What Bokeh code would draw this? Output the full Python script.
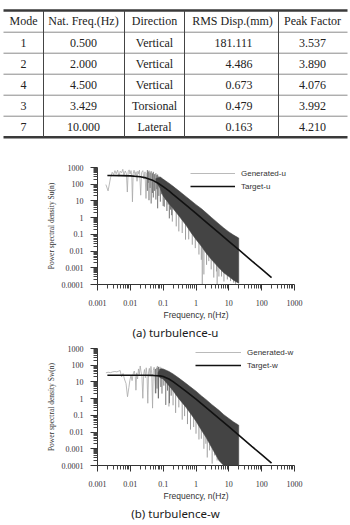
from bokeh.plotting import figure
from bokeh.models import Range1d, FixedTicker, CustomJSTickFormatter, Legend, LegendItem
from bokeh.core.properties import value
from bokeh.embed import file_html
from bokeh.resources import INLINE

# ---------------- modal response table ----------------
table_headers = ["Mode", "Nat. Freq.(Hz)", "Direction", "RMS Disp.(mm)", "Peak Factor"]
modes = ["1", "2", "4", "3", "7"]
nat_freq = [0.500, 2.000, 4.500, 3.429, 10.000]
directions = ["Vertical", "Vertical", "Vertical", "Torsional", "Lateral"]
rms_disp = [181.111, 4.486, 0.673, 0.479, 0.163]
peak_factor = [3.537, 3.890, 4.076, 3.992, 4.210]

# ---------------- turbulence-u spectrum ----------------
target_u_f = [0.002, 0.005, 0.01, 0.02, 0.03, 0.05, 0.07, 0.1, 0.15, 0.2, 0.3, 0.5,
              0.7, 1, 2, 5, 10, 20, 50, 100, 200]
target_u_s = [330, 326, 316, 282, 239, 164, 114, 72, 40, 25, 13, 5.6,
              3.2, 1.78, 0.56, 0.122, 0.0385, 0.0121, 0.0026, 0.00083, 0.00026]

wander_u_f = [0.0018, 0.0021, 0.0025, 0.0028, 0.0031, 0.0034, 0.0037, 0.0041, 0.0045, 0.0049,
              0.0054, 0.0059, 0.0064, 0.0070, 0.0076, 0.0081, 0.0086, 0.0092, 0.0098, 0.0105,
              0.0111, 0.0116, 0.0122, 0.0130, 0.0140, 0.0150, 0.0160, 0.0170, 0.0180, 0.0190,
              0.0207, 0.0220, 0.0240, 0.0260, 0.0280, 0.0300, 0.0320]
wander_u_s = [95, 40, 250, 520, 380, 650, 420, 700, 300, 600,
              480, 780, 350, 620, 430, 34, 560, 720, 400, 650,
              300, 8.8, 420, 680, 350, 560, 150, 600, 420, 700,
              22, 500, 650, 200, 550, 14, 480]

band_u_f = [0.06, 0.08, 0.1, 0.15, 0.2, 0.3, 0.5, 0.7, 1, 1.5, 2, 3, 5, 7, 10, 14, 20]
band_u_hi = [220, 260, 200, 115, 75, 40, 18, 10.5, 6.0, 3.3, 2.0, 1.0, 0.42, 0.24, 0.14, 0.09, 0.06]
band_u_lo = [150, 60, 20, 7, 3.5, 1.3, 0.35, 0.13, 0.05, 0.018, 0.008, 0.003, 0.001,
             0.0005, 0.0003, 0.00018, 0.00012]

mid_u_f = [0.033, 0.035, 0.037, 0.040, 0.043, 0.047, 0.050, 0.055, 0.060, 0.064, 0.068,
           0.074, 0.082, 0.090, 0.100, 0.108, 0.118, 0.130, 0.142, 0.154, 0.168, 0.182]
mid_u_top = [700, 550, 650, 500, 600, 450, 550, 400, 450, 350, 380,
             300, 280, 250, 200, 180, 150, 120, 100, 90, 70, 60]
mid_u_bot = [40, 120, 11, 60, 7, 30, 16, 40, 12, 50, 3.6,
             20, 9, 25, 5, 4.5, 12, 2.5, 6, 0.9, 3, 1.4]

light_u_f = [0.19, 0.25, 0.30, 0.38, 0.48, 0.60, 0.77, 0.95, 1.23, 1.45, 1.55, 1.74, 2.1,
             2.46, 2.9, 3.48, 4.2, 4.4, 4.99, 6.0, 7.1, 9.0, 11.3, 14.0, 16.0]
light_u_top = [5, 3, 2, 1, 0.5, 0.3, 0.2, 0.1, 0.05, 0.04, 0.03, 0.02, 0.015,
               0.01, 0.008, 0.005, 0.003, 0.003, 0.002, 0.0015, 0.001, 0.0008, 0.0006, 0.0004, 0.0003]
light_u_bot = [0.58, 0.3, 0.15, 0.12, 0.048, 0.05, 0.024, 0.015, 0.0062, 0.003, 0.0001, 0.0004, 0.0015,
               0.0025, 0.0008, 0.00026, 0.0006, 0.0001, 0.0003, 0.0003, 0.00015, 0.0002, 0.00016,
               0.00013, 0.00011]

# ---------------- turbulence-w spectrum ----------------
target_w_f = [0.002, 0.01, 0.03, 0.05, 0.08, 0.1, 0.15, 0.2, 0.3, 0.5, 1, 2, 5, 10, 20, 50, 100, 200]
target_w_s = [25, 25, 25, 24.5, 23, 21, 15, 10.5, 5.8, 2.7, 0.95, 0.3, 0.066, 0.021, 0.0066,
              0.0014, 0.00045, 0.00014]

wander_w_f = [0.0018, 0.0021, 0.0025, 0.0029, 0.0034, 0.0039, 0.0044, 0.0049, 0.0054, 0.006,
              0.0066, 0.0074, 0.0082, 0.009, 0.0097, 0.0105, 0.0113, 0.0122, 0.0132, 0.0142,
              0.0148, 0.0156, 0.0166, 0.0177, 0.0188, 0.02, 0.0213, 0.0226, 0.024, 0.0255,
              0.027, 0.0287, 0.0305, 0.0323, 0.034, 0.036, 0.038, 0.04, 0.0425, 0.045,
              0.0475, 0.05, 0.053, 0.056, 0.06, 0.063, 0.067, 0.071, 0.076, 0.08,
              0.085, 0.09, 0.095]
wander_w_s = [35, 38, 36, 40, 42, 40, 44, 48, 20, 32,
              15, 8, 1.3, 4.5, 12.7, 25, 12, 30, 45, 20,
              3.2, 35, 15, 60, 28, 90, 40, 20, 1.05, 30,
              55, 18, 70, 25, 0.53, 40, 65, 22, 85, 30,
              0.27, 50, 75, 25, 2.1, 60, 90, 1.05, 45, 80,
              30, 70, 40]

band_w_f = [0.07, 0.08, 0.1, 0.15, 0.2, 0.3, 0.5, 0.7, 1, 1.5, 2, 3, 5, 7, 10, 14, 20]
band_w_hi = [35, 60, 60, 42, 30, 17, 8, 4.8, 2.8, 1.4, 0.9, 0.45, 0.2, 0.11, 0.065, 0.04, 0.026]
band_w_lo = [25, 18, 15, 6, 3, 1, 0.3, 0.12, 0.045, 0.012, 0.005, 0.0012, 0.0002,
             0.0001, 0.0001, 0.0001, 0.0001]

mid_w_f = [0.058, 0.065, 0.072, 0.085, 0.092, 0.105, 0.12, 0.135, 0.155, 0.175]
mid_w_top = [60, 70, 80, 60, 55, 50, 40, 35, 30, 25]
mid_w_bot = [2.1, 4, 1.05, 5, 2, 6, 0.42, 3, 0.53, 1.5]

light_w_f = [0.15, 0.2, 0.24, 0.3, 0.38, 0.45, 0.55, 0.68, 0.85, 1.0,
             1.23, 1.45, 1.74, 2.0, 2.2, 2.6, 3.1, 3.7, 4.4]
light_w_top = [8, 4, 3, 1.5, 0.8, 0.5, 0.3, 0.15, 0.08, 0.05,
               0.03, 0.015, 0.009, 0.006, 0.004, 0.002, 0.0015, 0.0008, 0.0004]
light_w_bot = [0.34, 0.4, 0.14, 0.3, 0.055, 0.09, 0.03, 0.014, 0.02, 0.008,
               0.0036, 0.004, 0.001, 0.002, 0.0003, 0.0008, 0.00013, 0.0004, 0.0002]

# axis ticks (decades with 2..9 minor ticks)
x_major = [1e-3, 1e-2, 1e-1, 1.0, 10.0, 100.0, 1000.0]
y_major = [1e-4, 1e-3, 1e-2, 1e-1, 1.0, 10.0, 100.0, 1000.0]

SERIF = "Liberation Serif"
SANS = "Liberation Sans"
W = 350


def bare(height):
    p = figure(width=W, height=height, x_range=Range1d(0, W), y_range=Range1d(height, 0),
               min_border=0, x_axis_location=None, y_axis_location=None,
               toolbar_location=None, output_backend="svg", outline_line_color=None)
    p.grid.visible = False
    return p


# ---- table panel ----
tab = bare(150)
col_edges = [3, 43, 124, 184, 278, 347]
col_centers = [23, 83, 154, 232, 312]
rms_right = 252
top_y, head_bottom, row_h = 10, 31.7, 21.0
row_lines = [head_bottom + i * row_h for i in range(len(modes) + 1)]

thin = row_lines[:-1]
tab.segment(x0=[col_edges[0]] * len(thin), x1=[col_edges[-1]] * len(thin), y0=thin, y1=thin,
            line_color="#8a8a8a", line_width=1)
thick = [top_y, row_lines[-1]]
tab.segment(x0=[col_edges[0]] * 2, x1=[col_edges[-1]] * 2, y0=thick, y1=thick,
            line_color="#3a3a3a", line_width=2.5)
inner = col_edges[1:-1]
tab.segment(x0=inner, x1=inner, y0=[top_y] * len(inner), y1=[row_lines[-1]] * len(inner),
            line_color="#444444", line_width=1)

txt = dict(text_font=value(SERIF), text_font_size="12px", text_color="#222222",
           text_baseline="middle")
tab.text(x=col_centers, y=[(top_y + head_bottom) / 2] * len(table_headers), text=table_headers,
         text_align="center", **txt)
row_y = [head_bottom + row_h * (i + 0.5) for i in range(len(modes))]
tab.text(x=[col_centers[0]] * len(modes), y=row_y, text=modes, text_align="center", **txt)
tab.text(x=[col_centers[1]] * len(modes), y=row_y, text=[f"{v:.3f}" for v in nat_freq],
         text_align="center", **txt)
tab.text(x=[col_centers[2]] * len(modes), y=row_y, text=directions, text_align="center", **txt)
tab.text(x=[rms_right] * len(modes), y=row_y, text=[f"{v:.3f}" for v in rms_disp],
         text_align="right", **txt)
tab.text(x=[col_centers[4]] * len(modes), y=row_y, text=[f"{v:.3f}" for v in peak_factor],
         text_align="center", **txt)


def minor_of(major):
    return [m * d for d in major[:-1] for m in range(2, 10)]


def spectrum(comp, height, border_top, border_bottom, wander, band, mid, light, target,
             legend_loc, glyph_w):
    p = figure(width=W, height=height, x_axis_type="log", y_axis_type="log",
               x_range=Range1d(1e-3, 1e3), y_range=Range1d(1e-4, 1e3),
               min_border_left=97, min_border_right=56, min_border_top=border_top,
               min_border_bottom=border_bottom, toolbar_location=None, output_backend="svg",
               outline_line_color=None)
    p.grid.visible = False

    fmt = CustomJSTickFormatter(code="return String(Number(tick.toPrecision(6)));")
    p.xaxis.ticker = FixedTicker(ticks=x_major, minor_ticks=minor_of(x_major))
    p.yaxis.ticker = FixedTicker(ticks=y_major, minor_ticks=minor_of(y_major))
    for ax in (p.xaxis, p.yaxis):
        ax.formatter = fmt
        ax.axis_line_color = "#333333"
        ax.major_tick_line_color = "#333333"
        ax.minor_tick_line_color = "#444444"
        ax.major_tick_in = 0
        ax.minor_tick_in = 0
        ax.major_label_text_font = SERIF
        ax.major_label_text_font_size = "8px"
        ax.major_label_text_color = "#333333"
        ax.axis_label_text_font_style = "normal"
        ax.axis_label_text_color = "#333333"
    p.xaxis.major_tick_out = 6
    p.xaxis.minor_tick_out = 4
    p.xaxis.major_label_standoff = 9
    p.xaxis.axis_label = "Frequency, n(Hz)"
    p.xaxis.axis_label_text_font = SANS
    p.xaxis.axis_label_text_font_size = "8.5px"
    p.xaxis.axis_label_standoff = 1
    p.yaxis.major_tick_out = 7
    p.yaxis.minor_tick_out = 4
    p.yaxis.major_label_standoff = 7
    p.yaxis.axis_label = f"Power spectral density S{comp}(n)"
    p.yaxis.axis_label_text_font = SERIF
    p.yaxis.axis_label_text_font_size = "7.5px"
    p.yaxis.axis_label_standoff = 3

    wf, ws = wander
    gen = p.line(wf, ws, line_color="#a8a8a8", line_width=0.8)
    lf, lt, lb = light
    p.segment(x0=lf, x1=lf, y0=lt, y1=lb, line_color="#9c9c9c", line_width=1)
    mf, mt, mb = mid
    p.segment(x0=mf, x1=mf, y0=mt, y1=mb, line_color="#707070", line_width=1)
    bf, bh, bl = band
    p.patch(bf + bf[::-1], bh + bl[::-1], fill_color="#444444", line_color="#444444",
            line_width=0.6)
    tf, ts = target
    tgt = p.line(tf, ts, line_color="#111111", line_width=1.6)

    legend = Legend(items=[LegendItem(label=f"Generated-{comp}", renderers=[gen]),
                           LegendItem(label=f"Target-{comp}", renderers=[tgt])],
                    location=legend_loc, glyph_width=glyph_w, glyph_height=10,
                    label_height=10, label_standoff=6, spacing=3, padding=0, margin=0,
                    border_line_color=None, background_fill_alpha=0,
                    label_text_font=SANS, label_text_font_size="8px",
                    label_text_color="#333333")
    p.add_layout(legend)
    return p


def caption(text, height, y):
    p = bare(height)
    p.text(x=[W / 2], y=[y], text=[text], text_align="center", text_baseline="middle",
           text_font=value("Noto Sans"), text_font_size="11.5px", text_color="#1a1a1a")
    return p


fig_u = spectrum("u", 172, 17, 37,
                 (wander_u_f, wander_u_s),
                 (band_u_f, band_u_hi, band_u_lo),
                 (mid_u_f, mid_u_top, mid_u_bot),
                 (light_u_f, light_u_top, light_u_bot),
                 (target_u_f, target_u_s),
                 (93, 93), 45)
cap_a = caption("(a) turbulence-u", 21, 10)

fig_w = spectrum("w", 160, 5, 35,
                 (wander_w_f, wander_w_s),
                 (band_w_f, band_w_hi, band_w_lo),
                 (mid_w_f, mid_w_top, mid_w_bot),
                 (light_w_f, light_w_top, light_w_bot),
                 (target_w_f, target_w_s),
                 (98, 95), 46)
cap_b = caption("(b) turbulence-w", 22, 10)

# each panel is its own root so the frames keep their own borders
open("out.html", "w").write(file_html([tab, fig_u, cap_a, fig_w, cap_b], INLINE))
